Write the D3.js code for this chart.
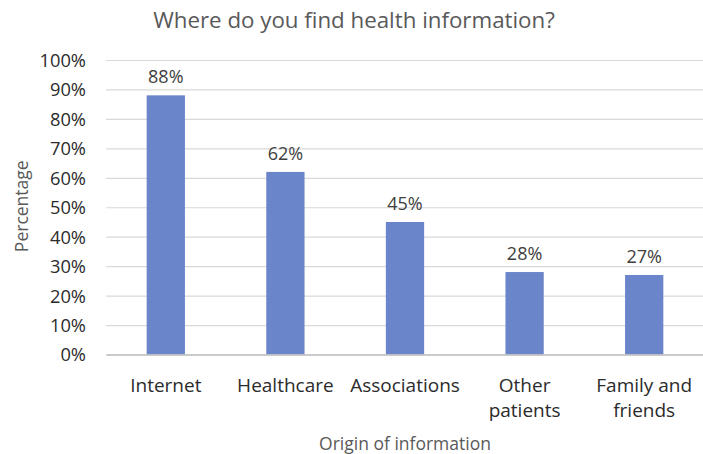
<!DOCTYPE html>
<html>
<head>
<meta charset="utf-8">
<script src="https://cdn.jsdelivr.net/npm/d3@7"></script>
<style>
  html, body { margin: 0; padding: 0; background: #fff; }
  svg { display: block; font-family: "Open Sans", sans-serif; }
</style>
</head>
<body>
<svg id="chart" width="703" height="454"></svg>
<script>
// Survey results: where respondents look for health information
const categories = ["Internet", "Healthcare", "Associations", "Other patients", "Family and friends"];
const categoryLines = [["Internet"], ["Healthcare"], ["Associations"], ["Other", "patients"], ["Family and", "friends"]];
const percentages = [0.88, 0.62, 0.45, 0.28, 0.27];
const tickValues = [0, 0.1, 0.2, 0.3, 0.4, 0.5, 0.6, 0.7, 0.8, 0.9, 1.0];

const titleText = "Where do you find health information?";
const xTitle = "Origin of information";
const yTitle = "Percentage";

const svg = d3.select("#chart");
const plotLeft = 106, plotRight = 704, plotTop = 60, plotBottom = 354.5;
const plotWidth = plotRight - plotLeft;

const x = d3.scaleBand()
  .domain(categories)
  .range([plotLeft, plotRight])
  .paddingInner(0.68)
  .paddingOuter(0.34);

const y = d3.scaleLinear().domain([0, 1]).range([plotBottom, plotTop]);

const fmt = d3.format(".0%");

// gridlines + tick labels
const yAxis = svg.append("g")
  .attr("transform", `translate(${plotLeft},0)`)
  .call(d3.axisLeft(y).tickValues(tickValues).tickFormat(fmt).tickSizeInner(-plotWidth).tickSizeOuter(0).tickPadding(20));
yAxis.select(".domain").remove();
yAxis.selectAll(".tick line").attr("stroke", "#d9d9d9").attr("stroke-width", 1.2);
yAxis.selectAll(".tick text")
  .attr("fill", "#2b2b2b")
  .attr("font-size", 18.3)
  .attr("font-family", "'Open Sans', sans-serif")
  .attr("dy", "0.35em");

// bars
svg.append("g").selectAll("rect")
  .data(percentages)
  .join("rect")
  .attr("x", (d, i) => x(categories[i]))
  .attr("width", x.bandwidth())
  .attr("y", d => y(d))
  .attr("height", d => y(0) - y(d))
  .attr("fill", "#6a85c9");

// baseline axis
const xAxis = svg.append("g")
  .attr("transform", `translate(0,${plotBottom})`)
  .call(d3.axisBottom(x).tickSize(0).tickPadding(0));
xAxis.select(".domain").attr("stroke", "#bfbfbf").attr("stroke-width", 1.3);
xAxis.selectAll(".tick text").each(function(d, i) {
  const t = d3.select(this);
  t.text(null)
    .attr("fill", "#2b2b2b")
    .attr("font-size", 19)
    .attr("font-family", "'Open Sans', sans-serif")
    .attr("y", 37)
    .attr("dy", 0);
  categoryLines[i].forEach((line, k) => {
    t.append("tspan").attr("x", 0).attr("dy", k === 0 ? 0 : 25).text(line);
  });
});

// value labels
svg.append("g").selectAll("text")
  .data(percentages)
  .join("text")
  .attr("x", (d, i) => x(categories[i]) + x.bandwidth() / 2)
  .attr("y", d => y(d) - 12)
  .attr("text-anchor", "middle")
  .attr("fill", "#404040")
  .attr("font-size", 18)
  .text(d => fmt(d));

// titles
svg.append("text")
  .attr("x", 354).attr("y", 28)
  .attr("text-anchor", "middle")
  .attr("fill", "#595959")
  .attr("font-size", 22.3)
  .text(titleText);

svg.append("text")
  .attr("x", (plotLeft + plotRight) / 2).attr("y", 450)
  .attr("text-anchor", "middle")
  .attr("fill", "#595959")
  .attr("font-size", 17.5)
  .text(xTitle);

svg.append("text")
  .attr("transform", `translate(28,${(plotTop + plotBottom) / 2 - 1}) rotate(-90)`)
  .attr("text-anchor", "middle")
  .attr("fill", "#595959")
  .attr("font-size", 17.5)
  .text(yTitle);
</script>
</body>
</html>
